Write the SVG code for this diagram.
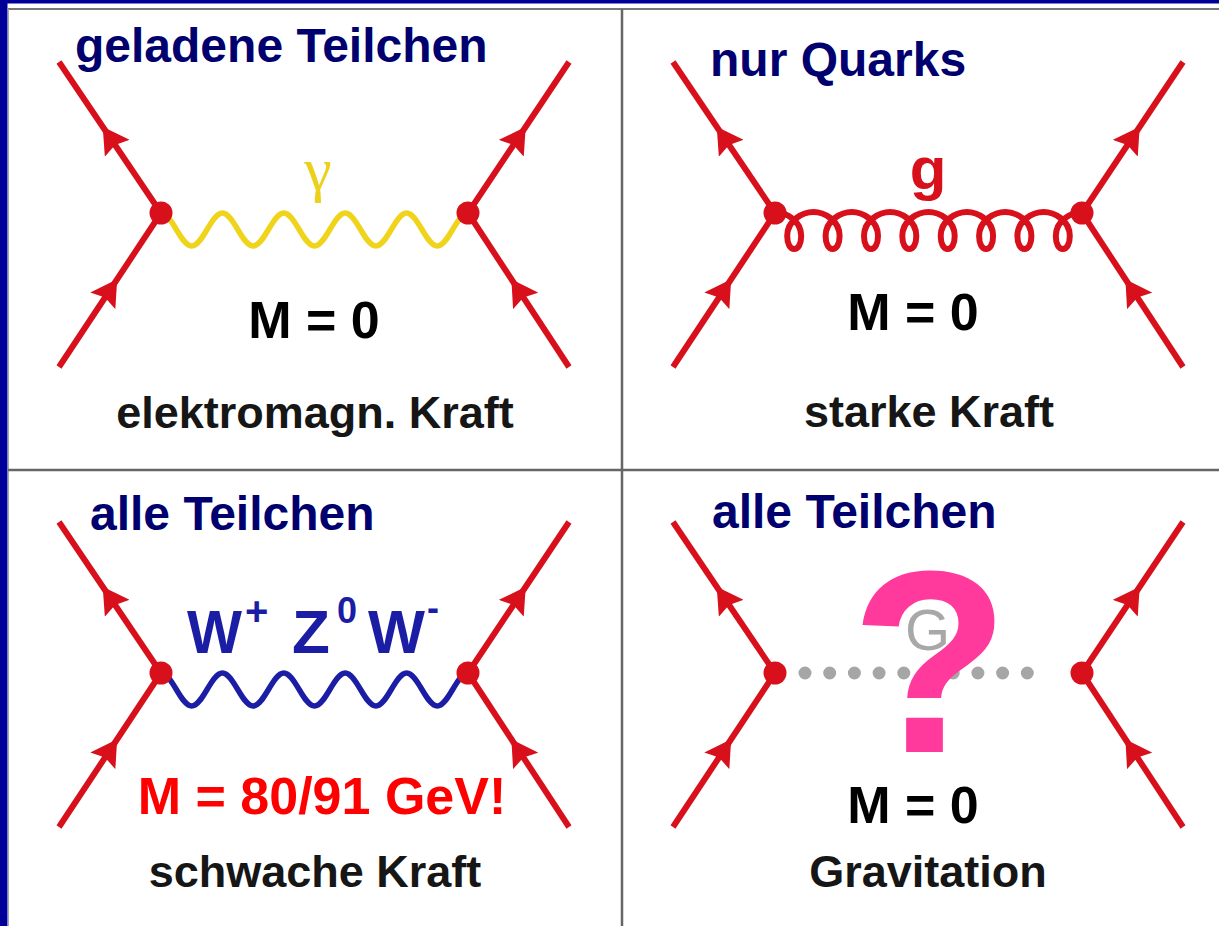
<svg xmlns="http://www.w3.org/2000/svg" xmlns:xlink="http://www.w3.org/1999/xlink" width="1219" height="926" viewBox="0 0 1219 926">
<style>
.title{font-family:"Liberation Sans",Arial,sans-serif;font-weight:bold;font-size:48px;fill:#00006e}
.mass{font-family:"Liberation Sans",Arial,sans-serif;font-weight:bold;font-size:52px;fill:#000;text-anchor:middle}
.force{font-family:"Liberation Sans",Arial,sans-serif;font-weight:bold;font-size:45px;fill:#161616;text-anchor:middle}
.fermion{fill:none;stroke:#d7101c;stroke-width:6;marker-mid:url(#arr)}
.vtx{fill:#d7101c}
.grid{stroke:#666;stroke-width:2.5}
</style>
<defs>
<marker id="arr" markerUnits="userSpaceOnUse" viewBox="0 0 26 30" markerWidth="26" markerHeight="30" refX="13" refY="15" orient="auto">
<path d="M0,0 L26,15 L0,30 L4,15 z" fill="#d7101c"/>
</marker>
<path id="wave" fill="none" stroke-width="5.5" stroke-linecap="round" d="M161,213 C172.2,213 180.5,246 191.7,246 S211.2,213 222.4,213 S241.9,246 253.1,246 S272.6,213 283.8,213 S303.3,246 314.5,246 S334,213 345.2,213 S364.7,246 375.9,246 S395.4,213 406.6,213 S426.1,246 437.3,246 S456.8,213 468,213"/>
<g id="fermions">
<path class="fermion" d="M59,367 L110,290 L161,213"/>
<path class="fermion" d="M161,213 L110,137.5 L59,62"/>
<path class="fermion" d="M569,367 L518.5,290 L468,213"/>
<path class="fermion" d="M468,213 L518.5,137.5 L569,62"/>
</g>
</defs>

<rect x="0" y="0" width="1219" height="926" fill="#fff"/>
<g id="frame">
<rect x="0" y="0" width="7.5" height="926" fill="#000099"/>
<rect x="0" y="0" width="1219" height="3.5" fill="#000099"/>
<line x1="8" y1="9" x2="1219" y2="9" stroke="#777" stroke-width="2"/>
<line x1="8.5" y1="9" x2="8.5" y2="926" stroke="#aaa" stroke-width="1"/>
<line class="grid" x1="622" y1="9" x2="622" y2="926"/>
<line class="grid" x1="8" y1="470" x2="1219" y2="470"/>
</g>

<g id="connectors">
<use xlink:href="#fermions"/>
<use xlink:href="#fermions" transform="translate(614,0)"/>
<use xlink:href="#fermions" transform="translate(0,460)"/>
<use xlink:href="#fermions" transform="translate(614,460)"/>
<use id="photon" xlink:href="#wave" stroke="#f0d41c"/>
<use id="wboson" xlink:href="#wave" stroke="#1b1ea4" transform="translate(0,460)"/>
<path id="gluon" fill="none" stroke="#d7101c" stroke-width="6" d="M775,212.5
C785.2,212 801.2,220 801.2,236 C801.2,244 798.2,249 794.2,249 C790.2,249 787.2,244 787.2,236 C787.2,220 803.2,212 813.4,212
C823.6,212 839.6,220 839.6,236 C839.6,244 836.6,249 832.6,249 C828.6,249 825.6,244 825.6,236 C825.6,220 841.6,212 851.8,212
C862,212 878,220 878,236 C878,244 875,249 871,249 C867,249 864,244 864,236 C864,220 880,212 890.1,212
C900.3,212 916.3,220 916.3,236 C916.3,244 913.3,249 909.3,249 C905.3,249 902.3,244 902.3,236 C902.3,220 918.3,212 928.5,212
C938.7,212 954.7,220 954.7,236 C954.7,244 951.7,249 947.7,249 C943.7,249 940.7,244 940.7,236 C940.7,220 956.7,212 966.9,212
C977.1,212 993.1,220 993.1,236 C993.1,244 990.1,249 986.1,249 C982.1,249 979.1,244 979.1,236 C979.1,220 995.1,212 1005.3,212
C1015.5,212 1031.4,220 1031.4,236 C1031.4,244 1028.4,249 1024.4,249 C1020.4,249 1017.4,244 1017.4,236 C1017.4,220 1033.4,212 1043.6,212
C1053.8,212 1069.8,220 1069.8,236 C1069.8,244 1066.8,249 1062.8,249 C1058.8,249 1055.8,244 1055.8,236 C1055.8,220 1071.8,212 1082,212.5"/>
<line id="graviton" x1="805" y1="673" x2="1052" y2="673" stroke="#a6a6a6" stroke-width="13" stroke-linecap="round" stroke-dasharray="0 24.7"/>
</g>

<g id="vertices">
<g id="v-em-l"><circle class="vtx" cx="161" cy="213" r="11.5"/></g>
<g id="v-em-r"><circle class="vtx" cx="468" cy="213" r="11.5"/></g>
<g id="v-st-l"><circle class="vtx" cx="775" cy="213" r="11.5"/></g>
<g id="v-st-r"><circle class="vtx" cx="1082" cy="213" r="11.5"/></g>
<g id="v-wk-l"><circle class="vtx" cx="161" cy="673" r="11.5"/></g>
<g id="v-wk-r"><circle class="vtx" cx="468" cy="673" r="11.5"/></g>
<g id="v-gr-l"><circle class="vtx" cx="775" cy="673" r="11.5"/></g>
<g id="v-gr-r"><circle class="vtx" cx="1082" cy="673" r="11.5"/></g>
</g>

<g id="panel-em">
<text class="title" x="75" y="62">geladene Teilchen</text>
<text x="318" y="190" font-family="'Liberation Serif','Times New Roman',serif" font-size="62" fill="#ecd01c" text-anchor="middle">γ</text>
<text class="mass" x="314" y="338">M = 0</text>
<text class="force" x="315" y="428">elektromagn. Kraft</text>
</g>

<g id="panel-strong">
<text class="title" x="710" y="76">nur Quarks</text>
<text x="928" y="189" font-family="'Liberation Sans',Arial,sans-serif" font-weight="bold" font-size="60" fill="#d7101c" text-anchor="middle">g</text>
<text class="mass" x="913" y="330">M = 0</text>
<text class="force" x="929" y="427">starke Kraft</text>
</g>

<g id="panel-weak">
<text class="title" x="90" y="530">alle Teilchen</text>
<g font-family="'Liberation Sans',Arial,sans-serif" font-weight="bold" fill="#1b1ea4">
<text x="187" y="653" font-size="62" textLength="55" lengthAdjust="spacingAndGlyphs">W</text>
<text x="245" y="625" font-size="40">+</text>
<text x="292" y="653" font-size="62">Z</text>
<text x="337" y="623" font-size="36">0</text>
<text x="368" y="653" font-size="62" textLength="57" lengthAdjust="spacingAndGlyphs">W</text>
<text x="427" y="620" font-size="36">-</text>
</g>
<text x="322" y="814" font-family="'Liberation Sans',Arial,sans-serif" font-weight="bold" font-size="52" fill="#ff0000" text-anchor="middle">M = 80/91 GeV!</text>
<text class="force" x="315" y="887">schwache Kraft</text>
</g>

<g id="panel-grav">
<text class="title" x="712" y="528">alle Teilchen</text>
<text x="905" y="650" font-family="'Liberation Sans',Arial,sans-serif" font-size="58" fill="#a8a8a8">G</text>
<text x="930" y="752" font-family="'Liberation Sans',Arial,sans-serif" font-weight="bold" font-size="260" fill="#ff3a9c" text-anchor="middle">?</text>
<text class="mass" x="913" y="823">M = 0</text>
<text class="force" x="928" y="887">Gravitation</text>
</g>
</svg>
